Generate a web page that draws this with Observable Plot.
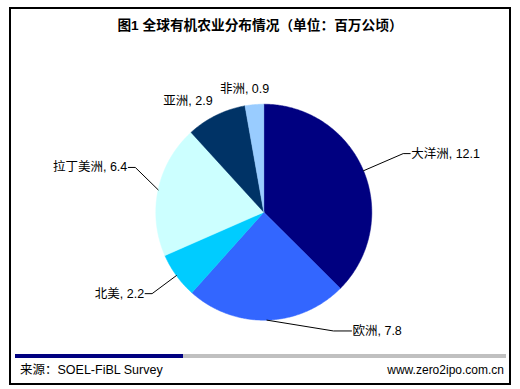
<!DOCTYPE html>
<html>
<head>
<meta charset="utf-8">
<script src="https://cdn.jsdelivr.net/npm/d3@7"></script>
<script src="https://cdn.jsdelivr.net/npm/@observablehq/plot@0.6"></script>
<style>
  body { margin: 0; background: #fff; }
  #wrap { position: relative; width: 520px; height: 389px; overflow: hidden; background: #fff;
          font-family: "Liberation Sans", "Noto Sans CJK SC", sans-serif; color: #000; }
  #frame { position: absolute; left: 9px; top: 7px; width: 502px; height: 378px; border: 2px solid #000; box-sizing: border-box; }
  #title { position: absolute; left: 9px; width: 502px; top: 18px; text-align: center; font-size: 13.7px; line-height: 16px; font-weight: bold; }
  #chart { position: absolute; left: 0; top: 40px; }
  #barA { position: absolute; left: 15px; top: 354px; width: 168px; height: 4px; background: #000080; }
  #barB { position: absolute; left: 183px; top: 354px; width: 323px; height: 4px; background: #C0C0C0; }
  #src { position: absolute; left: 20px; top: 362px; font-size: 12.5px; line-height: 17px; }
  #site { position: absolute; right: 16px; top: 362px; font-size: 12px; line-height: 17px; }
</style>
</head>
<body>
<div id="wrap">
  <div id="frame"></div>
  <div id="title">图1 全球有机农业分布情况（单位：百万公顷）</div>
  <div id="chart"></div>
  <div id="barA"></div><div id="barB"></div>
  <div id="src">来源：SOEL-FiBL Survey</div>
  <div id="site">www.zero2ipo.com.cn</div>
</div>
<script>
// ---- data ----
const regions = ["大洋洲", "欧洲", "北美", "拉丁美洲", "亚洲", "非洲"];
const areas = [12.1, 7.8, 2.2, 6.4, 2.9, 0.9];
const sliceColors = ["#000080", "#3366FF", "#00CCFF", "#CCFFFF", "#003366", "#99CCFF"];

// ---- layout (label placement: angle in degrees clockwise from 12 o'clock, radius factor) ----
const labelLayout = {
  "大洋洲":   {angle: 67.2,  k: 1.40, side: 1,  tail: 7,  leader: true},
  "欧洲":     {angle: 149.6, k: 1.275, side: 1, tail: 18, leader: true},
  "北美":     {angle: 233.9, k: 1.28, side: -1, tail: 7,  leader: true},
  "拉丁美洲": {angle: 289.2, k: 1.26, side: -1, tail: 7,  leader: true},
  "亚洲":     {angle: 325.6, k: 1.243, side: 0, tail: 0,  leader: false},
  "非洲":     {angle: 351.1, k: 1.15, side: 0,  tail: 0,  leader: false}
};

const W = 520, H = 306;
const cx = 263.3, cy = 171.7, R = 108;

const data = regions.map((r, i) => ({region: r, value: areas[i], color: sliceColors[i]}));
const arcs = d3.pie().sort(null).value(d => d.value)(data);

const px = (a, rr) => cx + rr * Math.sin(a);
const py = (a, rr) => cy - rr * Math.cos(a);

// slice polygons
const slicePts = [];
arcs.forEach(a => {
  const n = Math.max(2, Math.ceil((a.endAngle - a.startAngle) / (Math.PI / 360)));
  slicePts.push({region: a.data.region, color: a.data.color, x: cx, y: cy});
  for (let j = 0; j <= n; j++) {
    const t = a.startAngle + (a.endAngle - a.startAngle) * j / n;
    slicePts.push({region: a.data.region, color: a.data.color, x: px(t, R), y: py(t, R)});
  }
  slicePts.push({region: a.data.region, color: a.data.color, x: cx, y: cy});
});

// labels & leaders
const leaderPts = [];
const labels = [];
arcs.forEach(a => {
  const d = a.data, L = labelLayout[d.region];
  const mid = (a.startAngle + a.endAngle) / 2;
  const la = L.angle * Math.PI / 180;
  const ex = px(la, R * L.k), ey = py(la, R * L.k);
  const text = `${d.region}, ${d.value}`;
  if (L.leader) {
    leaderPts.push({region: d.region, x: px(mid, R), y: py(mid, R)});
    leaderPts.push({region: d.region, x: ex, y: ey});
    leaderPts.push({region: d.region, x: ex + L.side * L.tail, y: ey});
    labels.push({text, x: ex + L.side * (L.tail + 1), y: ey, anchor: L.side > 0 ? "start" : "end"});
  } else {
    labels.push({text, x: ex, y: ey, anchor: "middle"});
  }
});

const font = '"Liberation Sans", "Noto Sans CJK SC", sans-serif';

const chart = Plot.plot({
  width: W, height: H, margin: 0,
  style: {background: "transparent", fontFamily: font},
  x: {domain: [0, W], range: [0, W], axis: null},
  y: {domain: [0, H], range: [0, H], axis: null},
  color: {type: "identity"},
  marks: [
    Plot.line(slicePts, {x: "x", y: "y", z: "region", fill: "color", stroke: "color", strokeWidth: 0.5}),
    Plot.line(leaderPts, {x: "x", y: "y", z: "region", stroke: "#000", strokeWidth: 1}),
    Plot.text(labels.filter(d => d.anchor === "start"), {x: "x", y: "y", text: "text", textAnchor: "start", fontSize: 12.5, fill: "#000"}),
    Plot.text(labels.filter(d => d.anchor === "end"), {x: "x", y: "y", text: "text", textAnchor: "end", fontSize: 12.5, fill: "#000"}),
    Plot.text(labels.filter(d => d.anchor === "middle"), {x: "x", y: "y", text: "text", textAnchor: "middle", fontSize: 12.5, fill: "#000"})
  ]
});
document.getElementById("chart").appendChild(chart);
</script>
</body>
</html>
